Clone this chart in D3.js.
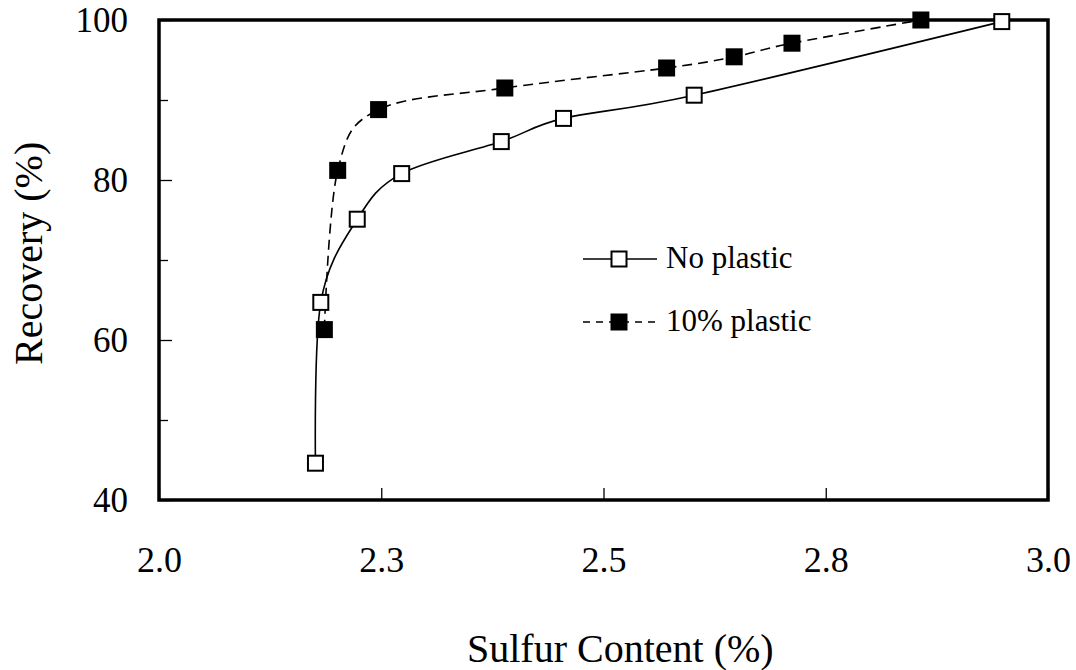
<!DOCTYPE html>
<html>
<head>
<meta charset="utf-8">
<script src="https://cdn.jsdelivr.net/npm/d3@7"></script>
</head>
<body style="margin:0;background:#fff">
<svg id="chart" width="1076" height="670" style="display:block"></svg>
<script>
// Recovery versus sulfur content, with and without plastic
const sulfurNoPlastic   = [2.176, 2.182, 2.223, 2.273, 2.385, 2.455, 2.602, 2.948];
const recoveryNoPlastic = [44.6, 64.7, 75.1, 80.8, 84.8, 87.7, 90.6, 99.8];
const sulfurPlastic     = [2.186, 2.201, 2.247, 2.389, 2.571, 2.647, 2.712, 2.857];
const recoveryPlastic   = [61.3, 81.2, 88.8, 91.5, 94.0, 95.4, 97.1, 100.0];

const seriesNames = ["No plastic", "10% plastic"];
const xTickValues = [2.0, 2.25, 2.5, 2.75, 3.0];
const xTickLabels = ["2.0", "2.3", "2.5", "2.8", "3.0"];
const yMajorTicks = [40, 60, 80, 100];
const yMinorTicks = [50, 70, 90];

const FONT = "Liberation Serif";
const plot = { left: 159, right: 1048, top: 20, bottom: 500 };

const svg = d3.select("#chart");
const x = d3.scaleLinear().domain([2.0, 3.0]).range([plot.left, plot.right]);
const y = d3.scaleLinear().domain([40, 100]).range([plot.bottom, plot.top]);

const series = [
  { name: seriesNames[0], pts: sulfurNoPlastic.map((s, i) => [s, recoveryNoPlastic[i]]), filled: false, dash: null },
  { name: seriesNames[1], pts: sulfurPlastic.map((s, i) => [s, recoveryPlastic[i]]), filled: true, dash: "10,6" }
];

// X axis: inward ticks, labels below
const xAxis = svg.append("g")
  .attr("transform", `translate(0,${plot.bottom})`)
  .call(d3.axisBottom(x)
    .tickValues(xTickValues)
    .tickFormat((d, i) => xTickLabels[i])
    .tickSizeInner(-12).tickSizeOuter(0).tickPadding(0));
xAxis.attr("font-family", FONT).attr("font-size", 36);
xAxis.select(".domain").remove();
xAxis.selectAll("line").attr("stroke", "#000").attr("stroke-width", 1.3);
xAxis.selectAll("text")
  .attr("y", 72).attr("dy", null)
  .attr("fill", "#000")
  .attr("font-family", FONT).attr("font-size", 36);

// Y axis: labelled major ticks and shorter unlabelled minor ticks
const yAxis = svg.append("g")
  .attr("transform", `translate(${plot.left},0)`)
  .call(d3.axisLeft(y)
    .tickValues(yMajorTicks)
    .tickFormat(d3.format("d"))
    .tickSizeInner(-13).tickSizeOuter(0).tickPadding(31));
yAxis.attr("font-family", FONT).attr("font-size", 35);
yAxis.select(".domain").remove();
yAxis.selectAll("line").attr("stroke", "#000").attr("stroke-width", 1.3);
yAxis.selectAll("text")
  .attr("dy", "0.34em")
  .attr("fill", "#000")
  .attr("font-family", FONT).attr("font-size", 35);

const yMinor = svg.append("g")
  .attr("transform", `translate(${plot.left},0)`)
  .call(d3.axisLeft(y).tickValues(yMinorTicks).tickFormat("").tickSizeInner(-9).tickSizeOuter(0));
yMinor.select(".domain").remove();
yMinor.selectAll("line").attr("stroke", "#000").attr("stroke-width", 1.3);

// Plot frame
svg.append("rect")
  .attr("x", plot.left).attr("y", plot.top)
  .attr("width", plot.right - plot.left).attr("height", plot.bottom - plot.top)
  .attr("fill", "none").attr("stroke", "#000").attr("stroke-width", 3.5);

// Smoothed series lines
const line = d3.line()
  .x(d => x(d[0])).y(d => y(d[1]))
  .curve(d3.curveCatmullRom.alpha(0));

series.forEach(s => {
  svg.append("path")
    .datum(s.pts)
    .attr("d", line)
    .attr("fill", "none")
    .attr("stroke", "#000")
    .attr("stroke-width", 1.6)
    .attr("stroke-dasharray", s.dash);
});

// Square markers
function drawSquares(g, pts, filled, cx, cy) {
  const size = filled ? 17 : 15;
  g.selectAll(null)
    .data(pts)
    .join("rect")
    .attr("x", d => cx(d) - size / 2)
    .attr("y", d => cy(d) - size / 2)
    .attr("width", size).attr("height", size)
    .attr("fill", filled ? "#000" : "#fff")
    .attr("stroke", "#000")
    .attr("stroke-width", filled ? 0 : 2);
}

series.slice().reverse().forEach(s => {
  drawSquares(svg.append("g"), s.pts, s.filled, d => x(d[0]), d => y(d[1]));
});

// Legend
const legend = svg.append("g");
const legendRows = [259, 322];
series.forEach((s, i) => {
  const ly = legendRows[i];
  legend.append("line")
    .attr("x1", 583).attr("x2", 657)
    .attr("y1", ly).attr("y2", ly)
    .attr("stroke", "#000").attr("stroke-width", 1.6)
    .attr("stroke-dasharray", s.filled ? "7,6" : null);
  drawSquares(legend.append("g"), [[619, ly]], s.filled, d => d[0], d => d[1]);
  legend.append("text")
    .attr("x", 666).attr("y", ly + 9)
    .attr("font-family", FONT).attr("font-size", 31)
    .attr("fill", "#000")
    .text(s.name);
});

// Axis titles
svg.append("text")
  .attr("x", 467).attr("y", 662)
  .attr("font-family", FONT).attr("font-size", 40)
  .attr("fill", "#000")
  .text("Sulfur Content (%)");

svg.append("text")
  .attr("transform", "translate(42,365) rotate(-90)")
  .attr("font-family", FONT).attr("font-size", 40)
  .attr("fill", "#000")
  .text("Recovery (%)");
</script>
</body>
</html>
